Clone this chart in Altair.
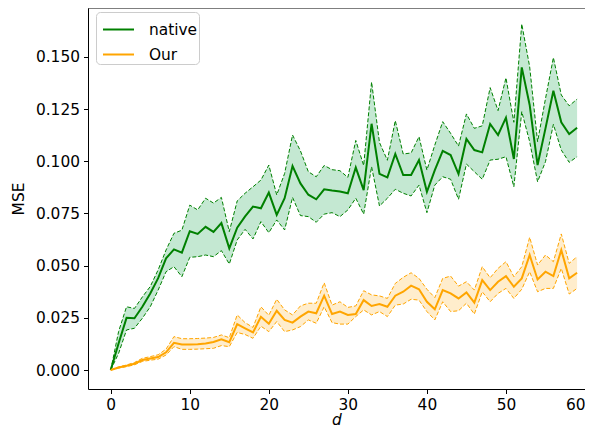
import altair as alt
import pandas as pd

d = list(range(60))

native_mean = [0.0, 0.0128, 0.0250, 0.0248, 0.0303, 0.0367, 0.0440, 0.0535, 0.0578, 0.0562,
               0.0665, 0.0652, 0.0686, 0.0662, 0.0704, 0.0583, 0.0682, 0.0736, 0.0783, 0.0775,
               0.0850, 0.0743, 0.0823, 0.0977, 0.0894, 0.0840, 0.0818, 0.0866, 0.0860, 0.0855,
               0.0847, 0.0970, 0.0862, 0.1180, 0.0940, 0.0923, 0.1035, 0.0934, 0.0934, 0.1006,
               0.0854, 0.0958, 0.1050, 0.1030, 0.0939, 0.1107, 0.1054, 0.1043, 0.1179, 0.1126,
               0.1209, 0.1011, 0.1450, 0.1270, 0.0982, 0.1158, 0.1338, 0.1187, 0.1131, 0.1161]
native_hi = [0.0, 0.0185, 0.0303, 0.0295, 0.0350, 0.0400, 0.0480, 0.0575, 0.0655, 0.0670,
             0.0790, 0.0767, 0.0823, 0.0800, 0.0827, 0.0663, 0.0810, 0.0847, 0.0878, 0.0910,
             0.0982, 0.0839, 0.0942, 0.1126, 0.1050, 0.0950, 0.0926, 0.0980, 0.0960, 0.0955,
             0.0923, 0.1100, 0.0980, 0.1380, 0.1090, 0.1005, 0.1195, 0.1035, 0.1040, 0.1118,
             0.0958, 0.1078, 0.1190, 0.1134, 0.1073, 0.1227, 0.1158, 0.1170, 0.1353, 0.1243,
             0.1400, 0.1187, 0.1658, 0.1453, 0.1094, 0.1300, 0.1497, 0.1318, 0.1266, 0.1298]
native_lo = [0.0, 0.0080, 0.0192, 0.0200, 0.0248, 0.0303, 0.0383, 0.0471, 0.0495, 0.0447,
             0.0540, 0.0543, 0.0551, 0.0543, 0.0572, 0.0508, 0.0623, 0.0674, 0.0628, 0.0711,
             0.0658, 0.0719, 0.0671, 0.0827, 0.0740, 0.0735, 0.0708, 0.0747, 0.0754, 0.0735,
             0.0767, 0.0823, 0.0747, 0.0974, 0.0786, 0.0823, 0.0866, 0.0847, 0.0834, 0.0886,
             0.0754, 0.0886, 0.0926, 0.0914, 0.0818, 0.0987, 0.0950, 0.0914, 0.1006, 0.1010,
             0.1022, 0.0878, 0.1238, 0.1094, 0.0902, 0.0998, 0.1177, 0.1054, 0.0995, 0.1022]

our_mean = [0.0, 0.0012, 0.0020, 0.0030, 0.0048, 0.0055, 0.0062, 0.0085, 0.0130, 0.0122,
            0.0122, 0.0124, 0.0127, 0.0134, 0.0147, 0.0133, 0.0220, 0.0200, 0.0180, 0.0255,
            0.0222, 0.0284, 0.0240, 0.0227, 0.0256, 0.0280, 0.0272, 0.0356, 0.0268, 0.0280,
            0.0264, 0.0268, 0.0335, 0.0307, 0.0316, 0.0303, 0.0356, 0.0375, 0.0404, 0.0387,
            0.0327, 0.0291, 0.0383, 0.0367, 0.0343, 0.0372, 0.0323, 0.0431, 0.0383, 0.0423,
            0.0450, 0.0399, 0.0439, 0.0551, 0.0434, 0.0471, 0.0450, 0.0575, 0.0439, 0.0466]
our_hi = [0.0, 0.0015, 0.0024, 0.0036, 0.0056, 0.0064, 0.0073, 0.0100, 0.0160, 0.0150,
          0.0150, 0.0151, 0.0153, 0.0156, 0.0168, 0.0155, 0.0264, 0.0227, 0.0204, 0.0303,
          0.0262, 0.0339, 0.0288, 0.0264, 0.0307, 0.0320, 0.0320, 0.0418, 0.0311, 0.0327,
          0.0300, 0.0307, 0.0380, 0.0360, 0.0355, 0.0343, 0.0415, 0.0444, 0.0466, 0.0439,
          0.0387, 0.0347, 0.0439, 0.0450, 0.0402, 0.0423, 0.0383, 0.0495, 0.0442, 0.0487,
          0.0519, 0.0447, 0.0495, 0.0636, 0.0503, 0.0551, 0.0519, 0.0652, 0.0511, 0.0543]
our_lo = [0.0, 0.0009, 0.0016, 0.0025, 0.0041, 0.0047, 0.0052, 0.0072, 0.0112, 0.0099,
          0.0099, 0.0100, 0.0102, 0.0104, 0.0117, 0.0112, 0.0180, 0.0170, 0.0152, 0.0210,
          0.0184, 0.0232, 0.0184, 0.0192, 0.0208, 0.0240, 0.0224, 0.0303, 0.0227, 0.0220,
          0.0220, 0.0256, 0.0288, 0.0264, 0.0280, 0.0256, 0.0311, 0.0316, 0.0339, 0.0335,
          0.0280, 0.0240, 0.0327, 0.0280, 0.0284, 0.0320, 0.0268, 0.0375, 0.0327, 0.0367,
          0.0391, 0.0343, 0.0387, 0.0471, 0.0375, 0.0391, 0.0391, 0.0487, 0.0364, 0.0391]

series_names = ["native", "Our"]
line_colors = ["green", "orange"]
fill_colors = ["#c4e8d2", "#ffedcc"]
x_ticks = [0, 10, 20, 30, 40, 50, 60]
y_ticks = [0.0, 0.025, 0.05, 0.075, 0.1, 0.125, 0.15]

rows = []
for name, m, lo, hi in [("native", native_mean, native_lo, native_hi),
                        ("Our", our_mean, our_lo, our_hi)]:
    for i in range(len(d)):
        rows.append({"d": d[i], "series": name, "band": name + " band",
                     "mean": m[i], "lo": lo[i], "hi": hi[i]})
df = pd.DataFrame(rows)

W, H = 497, 381
FONT = "DejaVu Sans"
FS = 15.4

xs = alt.Scale(domain=[-2.875, 60.0], nice=False, zero=False)
ys = alt.Scale(domain=[-0.0091, 0.17346], nice=False, zero=False)

x_enc = alt.X("d:Q", scale=xs,
              axis=alt.Axis(values=x_ticks, title="d", titleFontStyle="italic",
                            format="d", titlePadding=0))
base = alt.Chart(df)

area = base.mark_area(opacity=1).encode(
    x=x_enc,
    y=alt.Y("lo:Q", scale=ys,
            axis=alt.Axis(values=y_ticks, format=".3f", title="MSE", titlePadding=9)),
    y2="hi:Q",
    fill=alt.Fill("band:N",
                  scale=alt.Scale(domain=[s + " band" for s in series_names], range=fill_colors),
                  legend=None),
)

layers = [area]
for name, col in zip(series_names, line_colors):
    for bound in ["lo", "hi"]:
        layers.append(
            base.transform_filter(alt.datum.series == name)
            .mark_line(strokeWidth=1, strokeDash=[4, 2], color=col)
            .encode(x=x_enc, y=alt.Y(f"{bound}:Q", scale=ys))
        )

mean_line = base.mark_line(strokeWidth=2).encode(
    x=x_enc,
    y=alt.Y("mean:Q", scale=ys),
    stroke=alt.Stroke(
        "series:N",
        scale=alt.Scale(domain=series_names, range=line_colors),
        legend=alt.Legend(
            title=None, orient="none", legendX=8, legendY=4,
            symbolType="stroke", symbolSize=961, symbolStrokeWidth=2, symbolOffset=5,
            labelFont=FONT, labelFontSize=FS, labelColor="black", labelOffset=14,
            strokeColor="#cccccc", fillColor="white", cornerRadius=4, padding=1,
            rowPadding=-4,
        ),
    ),
)
layers.append(mean_line)

top_spine = alt.Chart(pd.DataFrame({"k": [0]})).mark_rule(color="black", strokeWidth=1).encode(
    x=alt.value(0), x2=alt.value(W), y=alt.value(0)
)
layers.append(top_spine)

chart = (
    alt.layer(*layers)
    .properties(width=W, height=H, autosize=alt.AutoSizeParams(type="none"),
                padding={"left": 80, "top": 0, "right": 0, "bottom": 40})
    .configure_view(stroke=None)
    .configure_axis(grid=False, domainColor="black", tickColor="black", labelColor="black",
                    titleColor="black", labelFont=FONT, titleFont=FONT, labelFontSize=FS,
                    titleFontSize=FS, titleFontWeight="normal", tickSize=4.5, labelPadding=4,
                    domainWidth=1, tickWidth=1)
)

chart.save("out.html", embed_options={"renderer": "svg", "actions": False})
